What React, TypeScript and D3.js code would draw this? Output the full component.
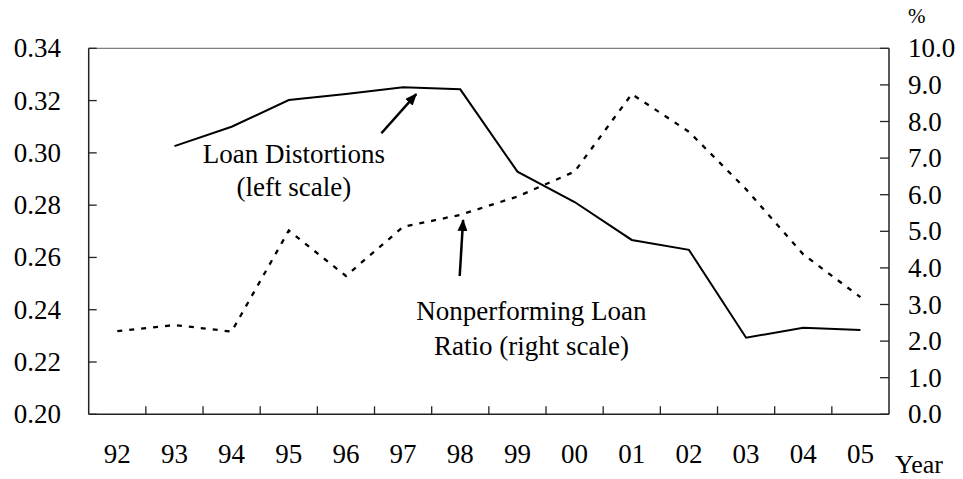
import React from "react";
import * as d3 from "d3";

const years = ["92", "93", "94", "95", "96", "97", "98", "99", "00", "01", "02", "03", "04", "05"];
const loanDistortions: (number | null)[] = [null, 0.3026, 0.31, 0.3202, 0.3225, 0.3251, 0.3243, 0.2928, 0.2812, 0.2667, 0.2629, 0.2293, 0.2331, 0.2322];
const nplRatio = [2.27, 2.44, 2.26, 5.02, 3.78, 5.12, 5.45, 5.95, 6.63, 8.75, 7.72, 6.15, 4.37, 3.2];
const leftTicks = [0.2, 0.22, 0.24, 0.26, 0.28, 0.3, 0.32, 0.34];
const rightTicks = [0, 1, 2, 3, 4, 5, 6, 7, 8, 9, 10];

const loanLabel = ["Loan Distortions", "(left scale)"];
const nplLabel = ["Nonperforming Loan", "Ratio (right scale)"];

const W = 963;
const H = 479;
const L = 88.7;
const R = 889;
const T = 48.3;
const B = 414.3;
const FONT = "'Liberation Serif', 'Times New Roman', Times, serif";
const FS = 27;

export default function App() {
  const x = d3.scaleBand<string>().domain(years).range([L, R]).paddingInner(0).paddingOuter(0);
  const xi = d3.scaleLinear().domain([0, years.length]).range([L, R]);
  const yL = d3.scaleLinear().domain([0.2, 0.34]).range([B, T]);
  const yR = d3.scaleLinear().domain([0, 10]).range([B, T]);
  const cx = (d: string) => (x(d) as number) + x.bandwidth() / 2;

  const solid = d3
    .line<[string, number | null]>()
    .defined((d) => d[1] != null)
    .x((d) => cx(d[0]))
    .y((d) => yL(d[1] as number));
  const dotted = d3
    .line<[string, number]>()
    .x((d) => cx(d[0]))
    .y((d) => yR(d[1]));

  const solidPath = solid(years.map((y, i) => [y, loanDistortions[i]] as [string, number | null])) || "";
  const dottedPath = dotted(years.map((y, i) => [y, nplRatio[i]] as [string, number])) || "";

  const boundaries = d3.range(1, years.length).map((i) => xi(i));

  const fmtL = d3.format(".2f");
  const fmtR = d3.format(".1f");

  return (
    <svg
      width={W}
      height={H}
      style={{ position: "absolute", left: 0, top: 0, background: "#fff" }}
      fontFamily={FONT}
    >
      <defs>
        <marker
          id="ah"
          viewBox="0 0 12 10"
          refX="11"
          refY="5"
          markerUnits="userSpaceOnUse"
          markerWidth="12"
          markerHeight="10"
          orient="auto"
        >
          <path d="M0,0 L12,5 L0,10 z" fill="#000" />
        </marker>
      </defs>
      <rect x={0} y={0} width={W} height={H} fill="#fff" />
      <line x1={L} x2={R} y1={T} y2={T} stroke="#808080" strokeWidth={1.2} />
      <line x1={L} x2={L} y1={T} y2={B} stroke="#222" strokeWidth={1.5} />
      {leftTicks.map((t) => (
        <g key={"l" + t}>
          <line x1={L} x2={L + 8} y1={yL(t)} y2={yL(t)} stroke="#222" strokeWidth={1.3} />
          <text x={61} y={yL(t) + 9} textAnchor="end" fontSize={FS}>
            {fmtL(t)}
          </text>
        </g>
      ))}
      <line x1={R} x2={R} y1={T} y2={B} stroke="#222" strokeWidth={1.5} />
      {rightTicks.map((t) => (
        <g key={"r" + t}>
          <line x1={R - 9} x2={R} y1={yR(t)} y2={yR(t)} stroke="#222" strokeWidth={1.3} />
          <text x={908} y={yR(t) + 9} textAnchor="start" fontSize={FS}>
            {fmtR(t)}
          </text>
        </g>
      ))}
      <text x={908} y={23} fontSize={21}>
        %
      </text>
      <line x1={L} x2={R} y1={B} y2={B} stroke="#222" strokeWidth={1.5} />
      {boundaries.map((bx, i) => (
        <line key={"xb" + i} x1={bx} x2={bx} y1={B} y2={B - 8} stroke="#222" strokeWidth={1.3} />
      ))}
      {years.map((y) => (
        <text key={"xl" + y} x={cx(y)} y={463} textAnchor="middle" fontSize={FS}>
          {y}
        </text>
      ))}
      <text x={895} y={473} fontSize={26}>
        Year
      </text>

      <path d={dottedPath} fill="none" stroke="#000" strokeWidth={2.3} strokeDasharray="5 7" />
      <path d={solidPath} fill="none" stroke="#000" strokeWidth={2} strokeLinejoin="miter" />

      <line
        x1={xi(5.12)}
        y1={yL(0.3075)}
        x2={xi(5.73)}
        y2={yL(0.3225)}
        stroke="#000"
        strokeWidth={2.5}
        markerEnd="url(#ah)"
      />
      <line
        x1={xi(6.49)}
        y1={yR(3.78)}
        x2={xi(6.55)}
        y2={yR(5.31)}
        stroke="#000"
        strokeWidth={2.5}
        markerEnd="url(#ah)"
      />
      <text x={xi(3.59)} y={yL(0.2961)} textAnchor="middle" fontSize={FS}>
        {loanLabel[0]}
      </text>
      <text x={xi(3.59)} y={yL(0.2961) + 33} textAnchor="middle" fontSize={FS}>
        {loanLabel[1]}
      </text>
      <text x={xi(7.745)} y={yR(2.58)} textAnchor="middle" fontSize={FS}>
        {nplLabel[0]}
      </text>
      <text x={xi(7.745)} y={yR(2.58) + 35} textAnchor="middle" fontSize={FS}>
        {nplLabel[1]}
      </text>
    </svg>
  );
}
